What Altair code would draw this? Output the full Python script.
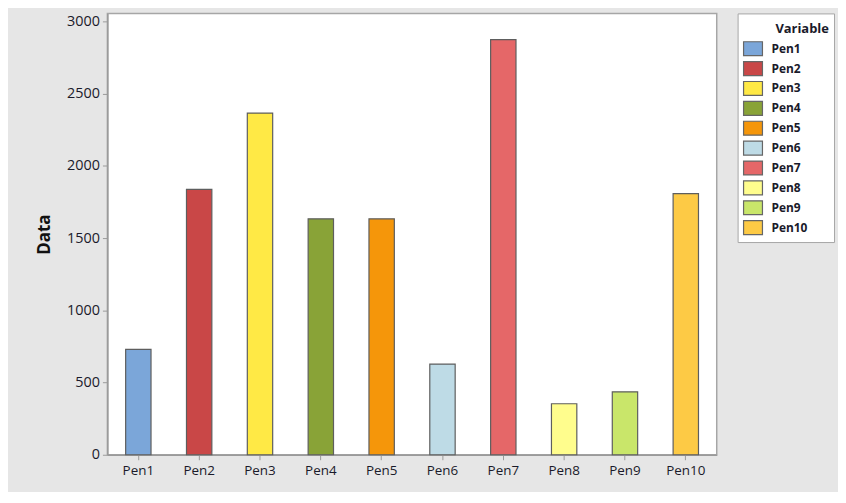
import altair as alt
import pandas as pd

variables = ["Pen1", "Pen2", "Pen3", "Pen4", "Pen5", "Pen6", "Pen7", "Pen8", "Pen9", "Pen10"]
values = [729, 1837, 2365, 1633, 1633, 628, 2874, 353, 436, 1807]
colors = ["#7BA6D9", "#C94747", "#FFE945", "#89A337", "#F5960A",
          "#BEDBE6", "#E56768", "#FFFD8D", "#C9E66A", "#FDCA45"]
y_ticks = [0, 500, 1000, 1500, 2000, 2500, 3000]

df = pd.DataFrame({"Variable": variables, "Data": values})

FONT = "Open Sans"
RECT = "M-1,-0.737H1V0.737H-1Z"

chart = alt.Chart(df).mark_bar(
    stroke="#5e5e5e", strokeWidth=1.2
).encode(
    x=alt.X("Variable:N", sort=variables,
            scale=alt.Scale(paddingInner=0.583, paddingOuter=0.3),
            axis=alt.Axis(title=None, labelAngle=0, labelFontSize=13.5,
                          labelColor="#1a1a2a", labelFont=FONT, labelPadding=4,
                          tickColor="#9a9a9a", tickSize=5, domainColor="#9a9a9a",
                          domainWidth=1.5)),
    y=alt.Y("Data:Q", scale=alt.Scale(domain=[0, 3055], nice=False),
            axis=alt.Axis(title="Data", values=y_ticks, format="d", grid=False,
                          labelFontSize=14.5, labelColor="#1a1a2a", labelFont=FONT,
                          labelPadding=3, tickColor="#9a9a9a", tickSize=5,
                          domainColor="#9a9a9a", domainWidth=1.5,
                          titleFont=FONT, titleFontSize=17, titleFontWeight="bold",
                          titleColor="#111111", titlePadding=13)),
    color=alt.Color("Variable:N", sort=variables,
                    scale=alt.Scale(domain=variables, range=colors),
                    legend=alt.Legend(title="Variable", orient="right", offset=21,
                                      fillColor="white", strokeColor="#a6a6a6",
                                      padding=5, symbolType=RECT, symbolSize=361,
                                      symbolStrokeColor="#666666", symbolStrokeWidth=1.2,
                                      labelFont=FONT, labelFontSize=12,
                                      labelFontWeight="bold", labelColor="#1a1a2a",
                                      labelOffset=8, rowPadding=0,
                                      titleFont=FONT, titleFontSize=13,
                                      titleFontWeight="bold", titleColor="#1a1a2a",
                                      titleAnchor="middle", titleAlign="left",
                                      titleBaseline="line-top", titleLineHeight=22,
                                      titlePadding=7)),
).properties(
    width=613, height=444,
    autosize=alt.AutoSizeParams(type="none"),
    padding={"left": 100, "top": 4, "right": 122, "bottom": 36},
    background="#e6e6e6",
).configure_view(
    stroke="#a6a6a6", strokeWidth=1.5, fill="white"
)

chart.save("out.html", embed_options={"renderer": "svg", "actions": False})
